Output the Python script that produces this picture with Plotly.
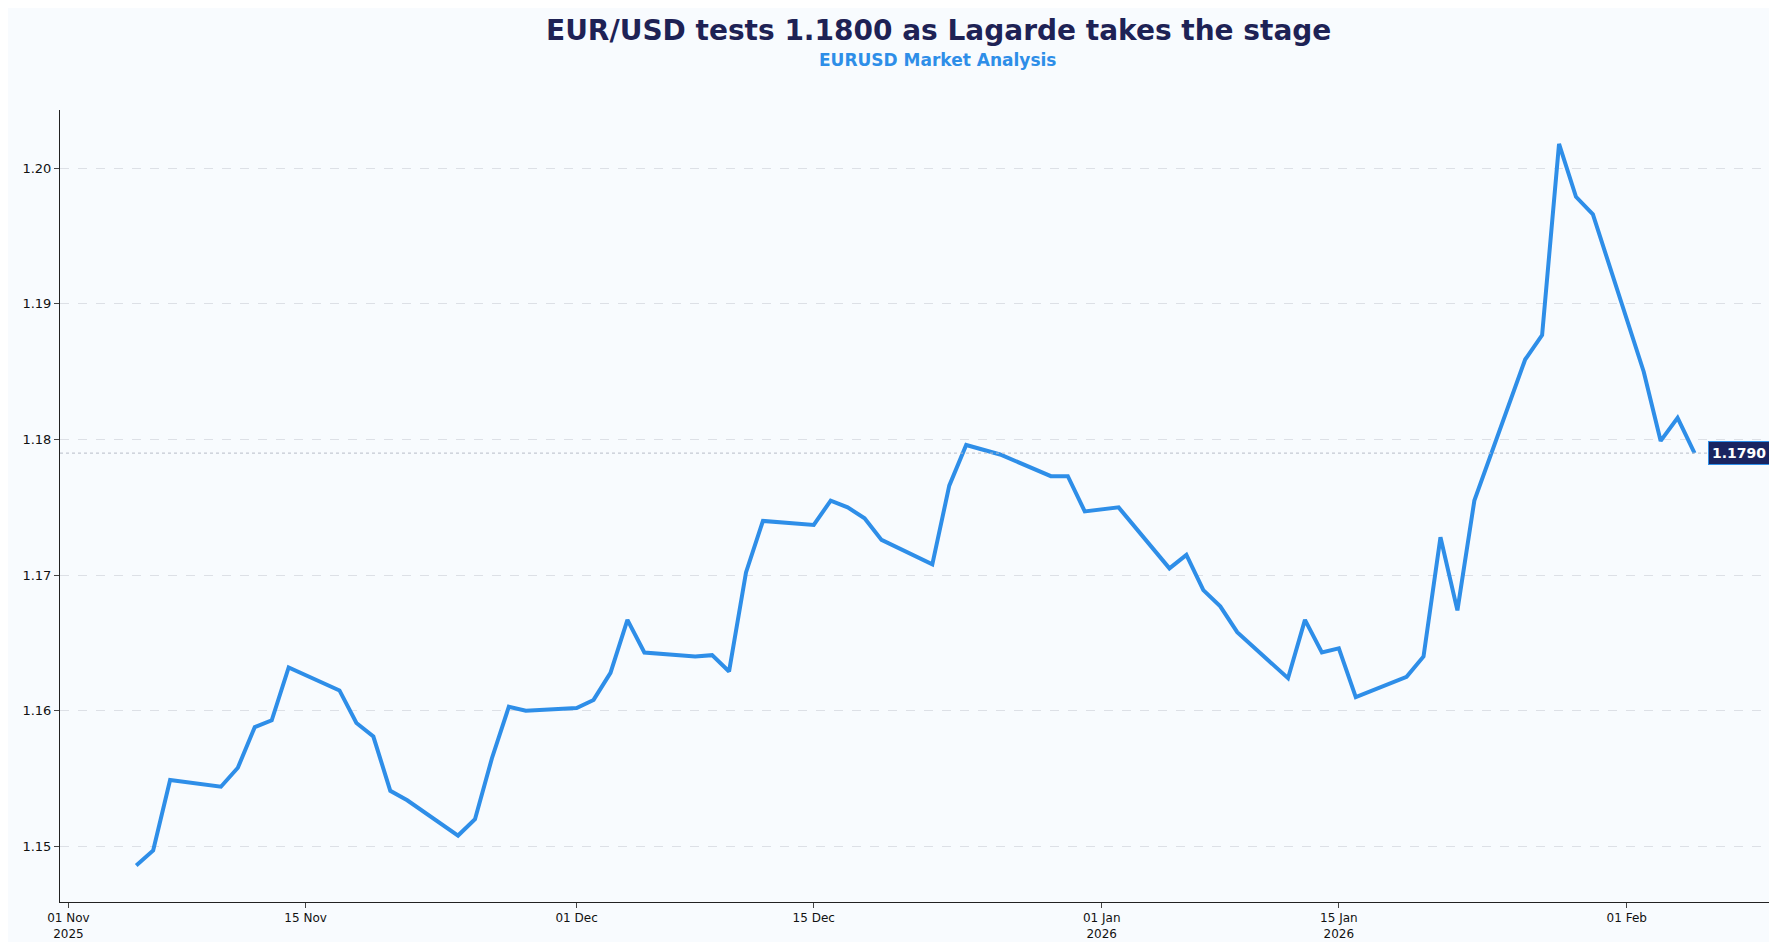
import plotly.graph_objects as go

# EUR/USD daily closes
dates = [
    "2025-11-05", "2025-11-06", "2025-11-07", "2025-11-10", "2025-11-11", "2025-11-12",
    "2025-11-13", "2025-11-14", "2025-11-17", "2025-11-18", "2025-11-19", "2025-11-20",
    "2025-11-21", "2025-11-24", "2025-11-25", "2025-11-26", "2025-11-27", "2025-11-28",
    "2025-12-01", "2025-12-02", "2025-12-03", "2025-12-04", "2025-12-05", "2025-12-08",
    "2025-12-09", "2025-12-10", "2025-12-11", "2025-12-12", "2025-12-15", "2025-12-16",
    "2025-12-17", "2025-12-18", "2025-12-19", "2025-12-22", "2025-12-23", "2025-12-24",
    "2025-12-26", "2025-12-29", "2025-12-30", "2025-12-31", "2026-01-02", "2026-01-05",
    "2026-01-06", "2026-01-07", "2026-01-08", "2026-01-09", "2026-01-12", "2026-01-13",
    "2026-01-14", "2026-01-15", "2026-01-16", "2026-01-19", "2026-01-20", "2026-01-21",
    "2026-01-22", "2026-01-23", "2026-01-26", "2026-01-27", "2026-01-28", "2026-01-29",
    "2026-01-30", "2026-02-02", "2026-02-03", "2026-02-04", "2026-02-05",
]
closes = [
    1.1486, 1.1497, 1.1549, 1.1544, 1.1558, 1.1588,
    1.1593, 1.1632, 1.1615, 1.1591, 1.1581, 1.1541,
    1.1534, 1.1508, 1.1520, 1.1565, 1.1603, 1.1600,
    1.1602, 1.1608, 1.1628, 1.1667, 1.1643, 1.1640,
    1.1641, 1.1629, 1.1702, 1.1740, 1.1737, 1.1755,
    1.1750, 1.1742, 1.1726, 1.1708, 1.1766, 1.1796,
    1.1789, 1.1773, 1.1773, 1.1747, 1.1750, 1.1705,
    1.1715, 1.1689, 1.1677, 1.1658, 1.1624, 1.1667,
    1.1643, 1.1646, 1.1610, 1.1625, 1.1640, 1.1728,
    1.1674, 1.1755, 1.1859, 1.1877, 1.2018, 1.1979,
    1.1966, 1.1850, 1.1799, 1.1816, 1.1790,
]
tick_dates = ["2025-11-01", "2025-11-15", "2025-12-01", "2025-12-15",
              "2026-01-01", "2026-01-15", "2026-02-01"]
tick_labels = ["01 Nov<br>2025", "15 Nov", "01 Dec", "15 Dec",
               "01 Jan<br>2026", "15 Jan<br>2026", "01 Feb"]
last_price = closes[-1]

fig = go.Figure()
fig.add_trace(go.Scatter(x=dates, y=closes, mode="lines",
                         line=dict(color="#2e8ee8", width=4), hoverinfo="x+y"))
fig.add_hline(y=last_price, line=dict(color="#b8bcc8", width=1, dash="dot"))
fig.add_annotation(x=0.997, xref="paper", y=last_price, yref="y", xanchor="right",
                   text=f"<b>{last_price:.4f}</b>", showarrow=False,
                   font=dict(color="white", size=14),
                   bgcolor="#1a2460", bordercolor="#2e8ee8", borderwidth=1, borderpad=3)

# title and subtitle
fig.add_annotation(x=0.512, xref="paper", y=1.10, yref="paper", yanchor="middle",
                   text="<b>EUR/USD tests 1.1800 as Lagarde takes the stage</b>",
                   showarrow=False, font=dict(size=28, color="#1e2255"))
fig.add_annotation(x=0.512, xref="paper", y=1.063, yref="paper", yanchor="middle",
                   text="<b>EURUSD Market Analysis</b>",
                   showarrow=False, font=dict(size=17, color="#2e8ee8"))

fig.update_layout(
    width=1777, height=942,
    paper_bgcolor="#f8fbfe", plot_bgcolor="#f8fbfe",
    font=dict(family="DejaVu Sans", color="#111111", size=12),
    margin=dict(l=52, r=10, t=102, b=48),
    showlegend=False,
    xaxis=dict(type="date", range=["2025-10-31 12:00", "2026-02-09 18:00"],
               tickvals=tick_dates, ticktext=tick_labels, ticks="outside",
               ticklen=5, showgrid=False, showline=True, linecolor="#222222",
               tickfont=dict(size=12), zeroline=False),
    yaxis=dict(range=[1.1459, 1.2043], tickvals=[1.15, 1.16, 1.17, 1.18, 1.19, 1.20],
               tickformat=".2f", ticks="outside", ticklen=5, showline=True,
               linecolor="#222222", showgrid=True, gridcolor="#dde0e6", griddash="dash",
               gridwidth=1, zeroline=False, tickfont=dict(size=13)),
)

fig.write_html("out.html")
